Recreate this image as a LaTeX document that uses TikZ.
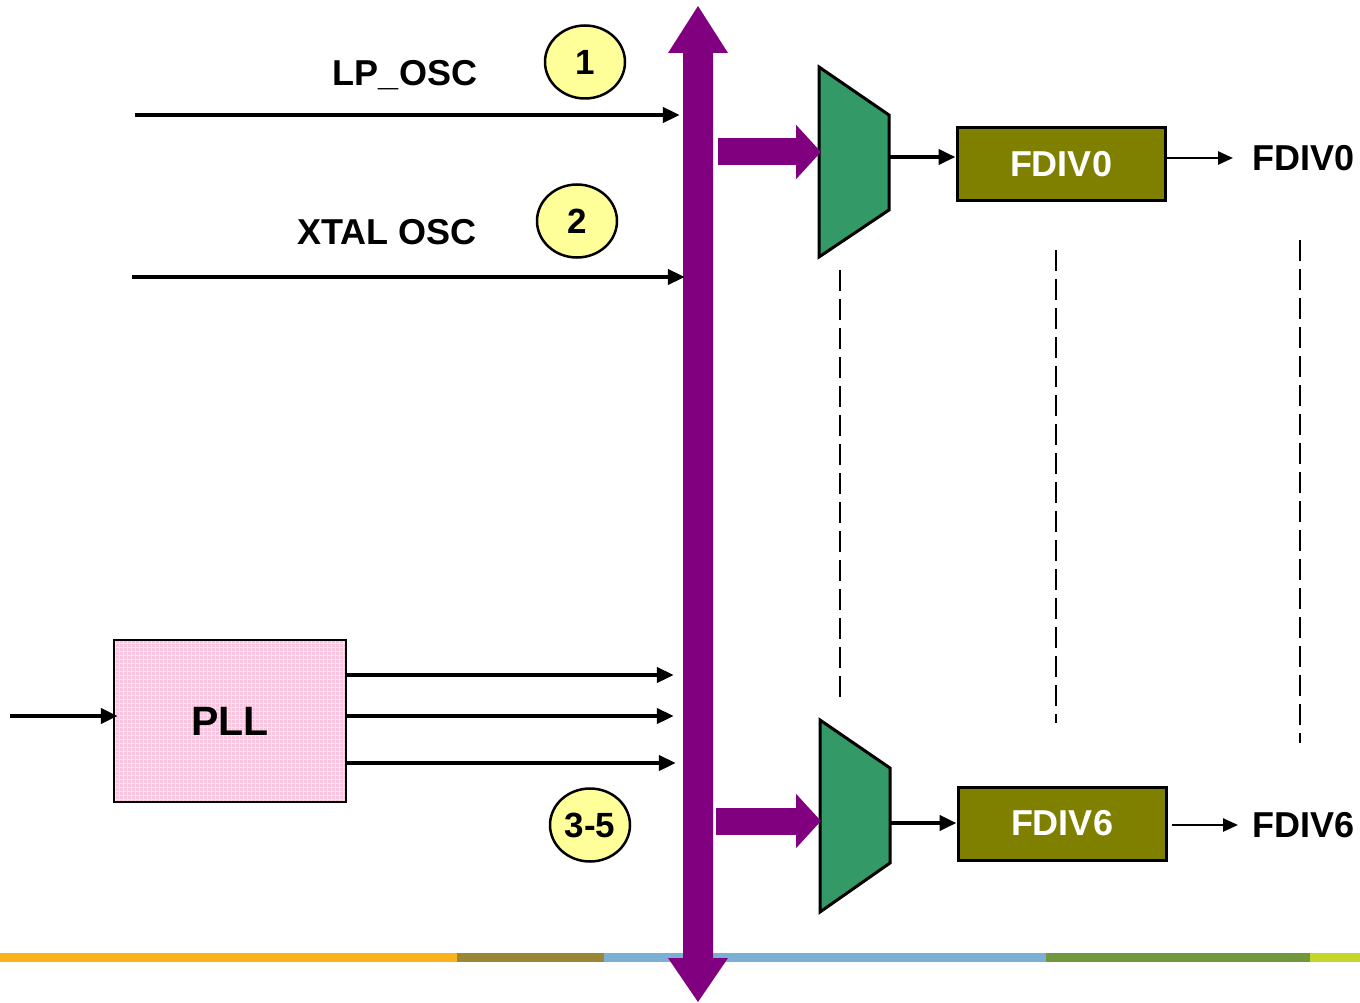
\documentclass[tikz,border=0pt]{standalone}
\usepackage{fontspec}
\setmainfont{Liberation Sans}
\usetikzlibrary{arrows.meta,shapes.geometric}
\definecolor{busc}{HTML}{800080}
\definecolor{muxc}{HTML}{339966}
\definecolor{divc}{HTML}{808000}
\definecolor{pllc}{HTML}{F9C4DE}
\definecolor{pllg}{HTML}{FDE3F0}
\definecolor{tagc}{HTML}{FFFF99}
\definecolor{sOrange}{HTML}{F9B21B}
\definecolor{sBrown}{HTML}{9A8736}
\definecolor{sBlue}{HTML}{7BAFD4}
\definecolor{sGreen}{HTML}{72983D}
\definecolor{sLime}{HTML}{C5D62B}
\tikzset{
  lbl/.style={font=\fontsize{36}{36}\selectfont\bfseries, inner sep=0pt},
  sig/.style={line width=4.5pt, -{Triangle[length=17pt,width=15pt]}},
  thinsig/.style={line width=2.5pt, -{Triangle[length=15pt,width=13pt]}},
  fat/.style={busc, line width=27pt, -{Triangle[length=25pt,width=53pt]}},
  muxshape/.style={fill=muxc, draw=black, line width=3pt, line join=miter},
  divbox/.style={fill=divc, draw=black, line width=3pt, minimum width=208pt,
    minimum height=73pt, inner sep=0pt, text=white,
    font=\fontsize{36}{36}\selectfont\bfseries},
  tag/.style={ellipse, fill=tagc, draw=black, line width=2.5pt, minimum width=80pt,
    minimum height=73pt, inner sep=0pt, font=\fontsize{35}{35}\selectfont\bfseries},
  guide/.style={line width=2pt, dash pattern=on 21pt off 8pt},
}
\begin{document}
\begin{tikzpicture}[x=1pt,y=-1pt]
\useasboundingbox (0,0) rectangle (1360,1003);

% colour strip along the bottom
\fill[sOrange] (0,953) rectangle (457,962);
\fill[sBrown] (457,953) rectangle (604,962);
\fill[sBlue] (604,953) rectangle (1046,962);
\fill[sGreen] (1046,953) rectangle (1310,962);
\fill[sLime] (1310,953) rectangle (1360,962);

% clock bus: a double-headed vertical arrow
\node[minimum width=30pt, minimum height=905pt, inner sep=0pt] (bus) at (698,505.5) {};
\fill[busc] (683,53) -- (668,53) -- (698,6) -- (728,53) -- (713,53) -- (713,958)
  -- (728,958) -- (698,1002) -- (668,958) -- (683,958) -- cycle;

% oscillator inputs
\coordinate (lpin) at (135,115);
\coordinate (xtin) at (132,277);
\draw[sig, shorten >=3pt] (lpin) -- (lpin -| bus.west);
\draw[sig, shorten >=-2pt] (xtin) -- (xtin -| bus.west);
\node[lbl, anchor=base] (lplbl) at (405,86) {LP\_OSC};
\node[lbl, anchor=base] (xtlbl) at (387,244) {XTAL OSC};
\node[tag] (t1) at (585,62) {1};
\node[tag] (t2) at (577,221) {2};
\node[tag] (t3) at (590,825) {3-5};

% PLL block
\node[draw=black, line width=2.5pt, fill=pllc, minimum width=232pt, minimum height=162pt,
  inner sep=0pt, font=\fontsize{41}{41}\selectfont\bfseries,
  path picture={\draw[pllg, line width=0.6pt]
    ([shift={(-4pt,-4pt)}]path picture bounding box.south west) grid[step=4pt]
    ([shift={(4pt,4pt)}]path picture bounding box.north east);}] (pll) at (230,721) {PLL};
\coordinate (pllin) at (10,716);
\draw[sig, shorten >=-5pt] (pllin) -- (pllin -| pll.west);
\coordinate (po1) at (346,675);
\coordinate (po2) at (346,716);
\coordinate (po3) at (346,763);
\draw[sig, shorten >=9pt] (po1) -- (po1 -| bus.west);
\draw[sig, shorten >=9pt] (po2) -- (po2 -| bus.west);
\draw[sig, shorten >=7pt] (po3) -- (po3 -| bus.west);

% selector 0 and divider 0
\draw[muxshape] (819,67) -- (889,115) -- (889,210) -- (819,257) -- cycle;
\coordinate (m0in) at (821,152);
\coordinate (m0out) at (889,157);
\draw[fat, shorten <=5pt] (m0in -| bus.east) -- (m0in);
\node[divbox] (fd0) at (1061,164.5) {FDIV0};
\draw[sig] (m0out) -- (m0out -| fd0.west);
\node[lbl, anchor=west] (o0) at (1252,158) {FDIV0};
\draw[thinsig] (fd0.east |- o0.west) -- ([xshift=-19pt]o0.west);

% selector 6 and divider 6
\draw[muxshape] (820,720) -- (890,768) -- (890,863) -- (820,912) -- cycle;
\coordinate (m6in) at (821,821);
\coordinate (m6out) at (890,823);
\draw[fat, shorten <=3pt] (m6in -| bus.east) -- (m6in);
\node[divbox] (fd6) at (1062,823.5) {FDIV6};
\draw[sig] (m6out) -- (m6out -| fd6.west);
\node[lbl, anchor=west] (o6) at (1252,825) {FDIV6};
\draw[thinsig, shorten <=4pt] (fd6.east |- o6.west) -- ([xshift=-14pt]o6.west);

% repeated-channel guides
\coordinate (g1a) at (840,270); \coordinate (g1b) at (840,703);
\coordinate (g2a) at (1056,250); \coordinate (g2b) at (1056,723);
\coordinate (g3a) at (1300,240); \coordinate (g3b) at (1300,743);
\draw[guide] (g1a) -- (g1b);
\draw[guide] (g2a) -- (g2b);
\draw[guide] (g3a) -- (g3b);
\end{tikzpicture}
\end{document}
